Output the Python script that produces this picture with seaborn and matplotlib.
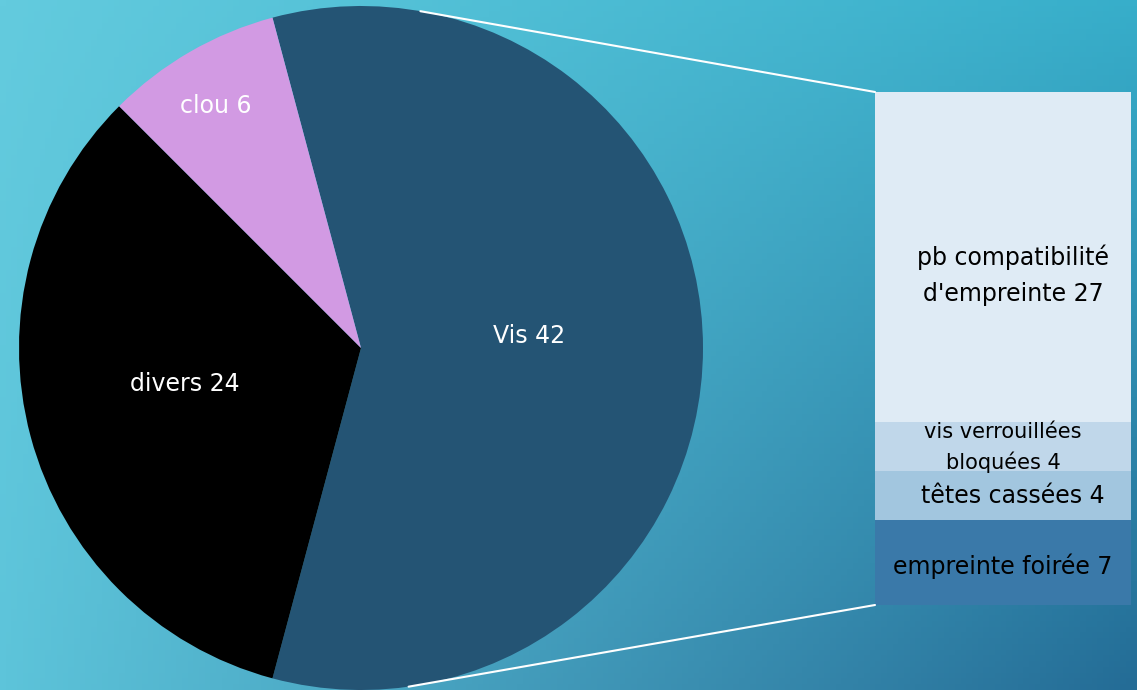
import numpy as np
import matplotlib
matplotlib.use("Agg")
import matplotlib.pyplot as plt
import seaborn as sns
from matplotlib.patches import ConnectionPatch
from matplotlib.colors import to_rgb

sns.set_theme(style="white")
plt.rcParams['font.family'] = ['DejaVu Sans']

# ---- data ----
pie_labels = ["Vis", "divers", "clou"]
pie_values = [42, 24, 6]
pie_colors = ["#245474", "#000000", "#D29AE3"]

bar_labels = ["empreinte foirée", "têtes cassées", "vis verrouillées\nbloquées", "pb compatibilité\nd'empreinte"]
bar_values = [7, 4, 4, 27]
bar_colors = ["#3A79A9", "#A2C6DF", "#C0D7EA", "#DFEBF5"]

W, H = 1137, 690
fig = plt.figure(figsize=(W / 100, H / 100), dpi=100)

# ---- background gradient ----
bg = fig.add_axes([0, 0, 1, 1])
tl, tr = np.array(to_rgb("#63CBDE")), np.array(to_rgb("#37AECA"))
bl, br = np.array(to_rgb("#5DC4DA")), np.array(to_rgb("#246C96"))
u = np.linspace(0, 1, 200)[None, :, None]
v = np.linspace(0, 1, 120)[:, None, None]
img = (1 - v) * ((1 - u) * tl + u * tr) + v * ((1 - u) * bl + u * br)
bg.imshow(img, aspect="auto", extent=[0, 1, 0, 1], origin="upper")
bg.set_axis_off()

def px(x0, y0, x1, y1):
    return [x0 / W, 1 - y1 / H, (x1 - x0) / W, (y1 - y0) / H]

# ---- pie ----
pax = fig.add_axes(px(19, 6, 703, 690))
wedges, _ = pax.pie(pie_values, colors=pie_colors, startangle=105, counterclock=False,
                    radius=1, wedgeprops=dict(linewidth=0))
pax.set_xlim(-1, 1)
pax.set_ylim(-1, 1)
pax.set_aspect("equal")
pax.set_axis_off()

label_pos = [(0.49, 0.035), (-0.515, -0.105), (-0.424, 0.708)]
for lab, val, (x, y) in zip(pie_labels, pie_values, label_pos):
    pax.text(x, y, f"{lab} {val}", color="white",
             fontsize=17, ha="center", va="center")

# ---- stacked bar ----
bax = fig.add_axes(px(875, 92, 1131, 605))
bottom = 0
label_offsets = [-0.3, -0.1, -0.1, -1.5]
label_dx = [0.0, 0.04, 0.0, 0.04]
label_fs = [17, 17, 15, 17]
label_ls = [1.2, 1.2, 1.55, 1.65]
for lab, val, col, off, dx, fs, ls in zip(bar_labels, bar_values, bar_colors,
                                          label_offsets, label_dx, label_fs, label_ls):
    bax.bar(0, val, bottom=bottom, width=1, color=col, linewidth=0)
    bax.text(dx, bottom + val / 2 + off, f"{lab} {val}",
             ha="center", va="center", fontsize=fs, color="black", linespacing=ls)
    bottom += val
bax.set_xlim(-0.5, 0.5)
bax.set_ylim(0, sum(bar_values))
bax.set_axis_off()

# ---- connector lines ----
for ang, yb in [(80, sum(bar_values)), (-82, 0)]:
    a = np.deg2rad(ang)
    con = ConnectionPatch(xyA=(np.cos(a), np.sin(a)), coordsA=pax.transData,
                          xyB=(-0.5, yb), coordsB=bax.transData,
                          color="white", linewidth=1.5)
    fig.add_artist(con)

fig.savefig("out.png", dpi=100)
